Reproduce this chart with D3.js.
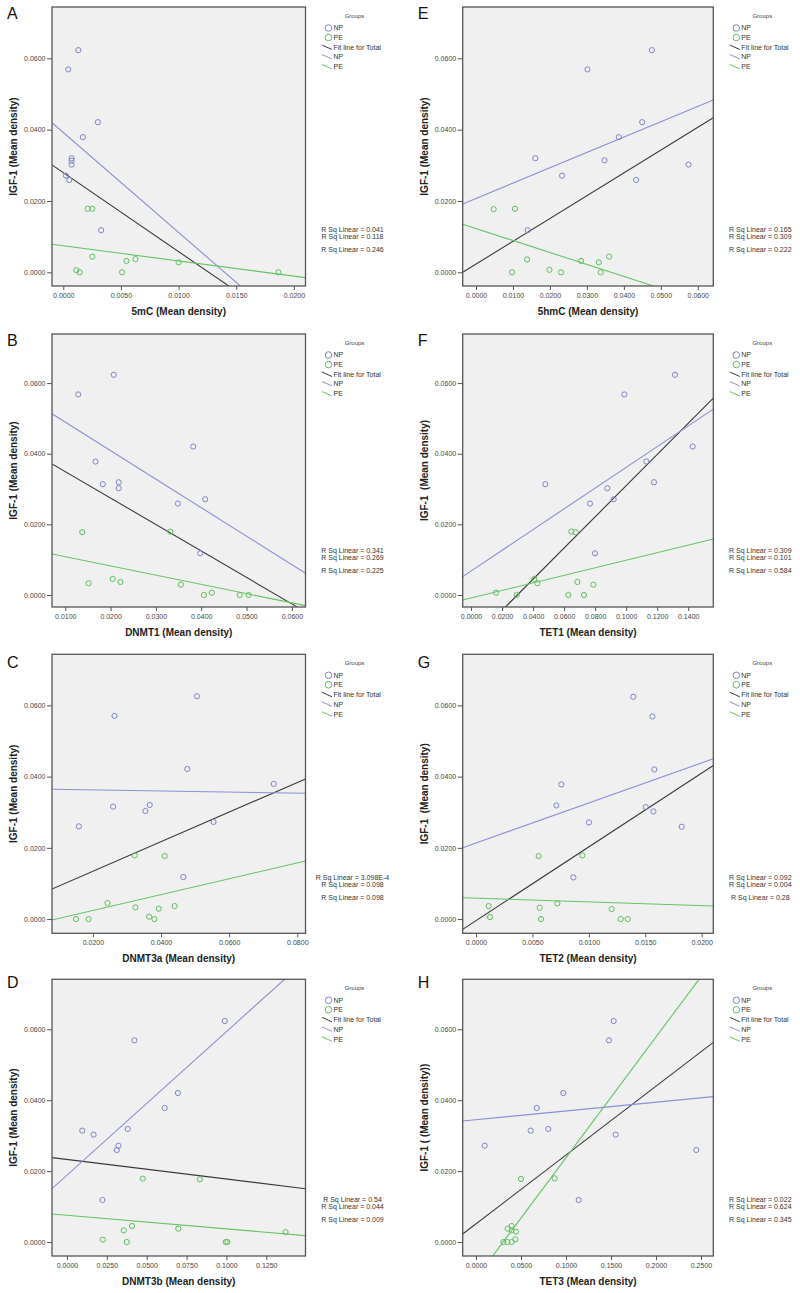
<!DOCTYPE html>
<html><head><meta charset="utf-8">
<script src="https://cdn.jsdelivr.net/npm/d3@7"></script>
<style>body{margin:0;background:#fff}svg text{font-family:"Liberation Sans",Arial,sans-serif;white-space:pre}</style>
</head><body><svg id="c" width="800" height="1293"></svg>
<script>
// ---------- DATA (x, IGF-1) pairs ----------
const groups = ["NP", "PE"];
const legendLabels = ["NP", "PE", "Fit line for Total", "NP", "PE"];
const yTicks = [0, 0.02, 0.04, 0.06];

// A: 5mC
const A_NP = [[0.0013,0.0623],[0.00043,0.0569],[0.0030,0.0421],[0.0017,0.0379],[0.00072,0.0320],[0.00072,0.0313],[0.00072,0.0302],[0.00023,0.0271],[0.00052,0.0259],[0.00328,0.0118]];
const A_PE = [[0.00212,0.0178],[0.00252,0.0178],[0.00252,0.0044],[0.00626,0.0037],[0.00548,0.0032],[0.0100,0.0028],[0.00113,0.0006],[0.00142,0.0],[0.0051,0.0],[0.01867,0.0]];
const A_FIT = {Total:[-0.00098,0.0301,0.01435,-0.00383], NP:[-0.00098,0.04196,0.01536,-0.00383], PE:[-0.00098,0.00785,0.0210,-0.0015]};
const A_R2 = ["0.041","0.118","0.246"];
const A_XTICKS = [0,0.005,0.01,0.015,0.02];

// E: 5hmC
const E_NP = [[0.04756,0.0623],[0.03014,0.0569],[0.04495,0.0421],[0.03863,0.0379],[0.01606,0.0320],[0.03475,0.0314],[0.05749,0.0302],[0.02329,0.0271],[0.04332,0.0259],[0.01399,0.0118]];
const E_PE = [[0.00478,0.0177],[0.01056,0.0178],[0.03601,0.0044],[0.01381,0.0036],[0.02843,0.0032],[0.03321,0.0028],[0.01986,0.0007],[0.00975,0],[0.02301,0],[0.03375,0]];
const E_FIT = {Total:[-0.0036,0.0,0.0642,0.04336], NP:[-0.0036,0.01916,0.0642,0.04832], PE:[-0.0036,0.01346,0.04801,-0.00383]};
const E_R2 = ["0.165","0.309","0.222"];
const E_XTICKS = [0,0.01,0.02,0.03,0.04,0.05,0.06];

// B: DNMT1
const B_NP = [[0.0207,0.06235],[0.01286,0.05678],[0.03823,0.04204],[0.01667,0.03779],[0.0218,0.03193],[0.01828,0.03137],[0.0218,0.03023],[0.04087,0.02711],[0.03485,0.02589],[0.03977,0.01181]];
const B_PE = [[0.01374,0.01776],[0.03317,0.01795],[0.02048,0.00453],[0.02217,0.00368],[0.01513,0.00331],[0.03551,0.00293],[0.04233,0.00066],[0.04057,0],[0.04849,0],[0.05047,0]];
const B_FIT = {Total:[0.00707,0.03713,0.06132,-0.0035], NP:[0.00707,0.0513,0.06301,0.00614], PE:[0.00707,0.01162,0.06301,-0.003]};
const B_R2 = ["0.341","0.269","0.225"];
const B_XTICKS = [0.01,0.02,0.03,0.04,0.05,0.06];

// F: TET1
const F_NP = [[0.13147,0.06235],[0.09882,0.05678],[0.14286,0.04204],[0.113,0.03779],[0.11794,0.03193],[0.0479,0.03137],[0.08786,0.03023],[0.09194,0.02711],[0.07669,0.02589],[0.07991,0.01181]];
const F_PE = [[0.06466,0.01795],[0.06745,0.01776],[0.04082,0.00453],[0.04275,0.00331],[0.06853,0.00368],[0.07884,0.00293],[0.01611,0.00066],[0.02943,0],[0.06273,0],[0.07282,0]];
const F_FIT = {Total:[0.02191,-0.0035,0.15617,0.05574], NP:[-0.00537,0.0052,0.15617,0.05262], PE:[-0.00537,-0.00142,0.15617,0.01587]};
const F_R2 = ["0.309","0.101","0.584"];
const F_XTICKS = [0,0.02,0.04,0.06,0.08,0.10,0.12,0.14];

// C: DNMT3a
const C_NP = [[0.05054,0.06257],[0.02634,0.05705],[0.04771,0.04215],[0.07307,0.03794],[0.03668,0.03204],[0.02595,0.03157],[0.03541,0.03035],[0.05541,0.02726],[0.0159,0.02604],[0.04654,0.0118]];
const C_PE = [[0.03229,0.01789],[0.04107,0.0177],[0.02429,0.0045],[0.044,0.00365],[0.03249,0.00328],[0.03932,0.0029],[0.03649,0.00066],[0.01502,0],[0.01873,0],[0.03805,0]];
const C_FIT = {Total:[0.008,0.00843,0.0824,0.03934], NP:[0.008,0.03644,0.0824,0.03532], PE:[0.008,-0.00028,0.0824,0.0163]};
const C_R2 = ["3.098E-4","0.098","0.098"];
const C_XTICKS = [0.02,0.04,0.06,0.08];

// G: TET2
const G_NP = [[0.01394,0.06242],[0.01563,0.0569],[0.0158,0.04202],[0.00756,0.03781],[0.00712,0.03191],[0.01504,0.03145],[0.01572,0.03023],[0.01001,0.02714],[0.01823,0.02592],[0.00863,0.0117]];
const G_PE = [[0.00555,0.01769],[0.00942,0.01787],[0.00721,0.0044],[0.00112,0.00365],[0.00564,0.00318],[0.01202,0.00281],[0.00124,0.00056],[0.00576,0],[0.01282,0],[0.01344,0]];
const G_FIT = {Total:[-0.00118,-0.0029,0.02103,0.04314], NP:[-0.00118,0.02003,0.02103,0.04501], PE:[-0.00118,0.00599,0.02103,0.00365]};
const G_R2 = ["0.092","0.004","0.28"];
const G_XTICKS = [0,0.005,0.01,0.015,0.02];

// D: DNMT3b
const D_NP = [[0.09896,0.06234],[0.04229,0.05689],[0.06958,0.04203],[0.06125,0.0378],[0.03813,0.03188],[0.00958,0.03141],[0.01667,0.03028],[0.03229,0.02717],[0.03125,0.02595],[0.02229,0.01185]];
const D_PE = [[0.0475,0.01787],[0.08333,0.01768],[0.04083,0.00451],[0.06979,0.00376],[0.03563,0.00329],[0.13708,0.00282],[0.0225,0.00066],[0.0375,0],[0.09958,0],[0.10063,0]];
const D_FIT = {Total:[-0.00938,0.02379,0.14958,0.01504], NP:[-0.00938,0.01504,0.13646,0.0741], PE:[-0.00938,0.0079,0.14958,0.00179]};
const D_R2 = ["0.54","0.044","0.009"];
const D_XTICKS = [0,0.025,0.05,0.075,0.1,0.125];

// H: TET3
const H_NP = [[0.15296,0.06234],[0.14778,0.05689],[0.09704,0.04203],[0.06741,0.0378],[0.08037,0.03188],[0.06074,0.03141],[0.15519,0.03028],[0.00963,0.02717],[0.24481,0.02595],[0.11407,0.01185]];
const H_PE = [[0.05,0.01777],[0.08741,0.01796],[0.03963,0.00451],[0.03519,0.00376],[0.03963,0.00329],[0.04444,0.00291],[0.0437,0.00075],[0.03037,0],[0.03481,0],[0.03963,0]];
const H_FIT = {Total:[-0.01481,0.00226,0.2637,0.0563], NP:[-0.01481,0.03413,0.2637,0.041], PE:[0.01852,-0.00395,0.24778,0.0741]};
const H_R2 = ["0.022","0.624","0.345"];
const H_XTICKS = [0,0.05,0.1,0.15,0.2,0.25];

// ---------- LAYOUT ----------
const cols = [{l:52, r:305.5}, {l:462.7, r:713.3}];
const rows = [
  {t:7,     b:286,    yDom:[-0.00384,0.07439], letterY:19},
  {t:334,   b:607,    yDom:[-0.0034,0.0739],   letterY:346},
  {t:654.3, b:933.3,  yDom:[-0.0040,0.07435],  letterY:668},
  {t:979.3, b:1256,   yDom:[-0.00395,0.0741],  letterY:988}
];
const panels = [
  {id:"A", col:0,row:0, xDom:[-0.00098,0.02101], xTitle:"5mC (Mean density)",    yTitle:"IGF-1 (Mean density)",    np:A_NP, pe:A_PE, fit:A_FIT, r2:A_R2, xt:A_XTICKS},
  {id:"B", col:0,row:1, xDom:[0.00707,0.06301],  xTitle:"DNMT1 (Mean density)",  yTitle:"IGF-1 (Mean density)",    np:B_NP, pe:B_PE, fit:B_FIT, r2:B_R2, xt:B_XTICKS},
  {id:"C", col:0,row:2, xDom:[0.008,0.0824],     xTitle:"DNMT3a (Mean density)", yTitle:"IGF-1 (Mean density)",    np:C_NP, pe:C_PE, fit:C_FIT, r2:C_R2, xt:C_XTICKS},
  {id:"D", col:0,row:3, xDom:[-0.00938,0.14958], xTitle:"DNMT3b (Mean density)", yTitle:"IGF-1 (Mean density)",    np:D_NP, pe:D_PE, fit:D_FIT, r2:D_R2, xt:D_XTICKS},
  {id:"E", col:1,row:0, xDom:[-0.0036,0.0642],   xTitle:"5hmC (Mean density)",   yTitle:"IGF-1 (Mean density)",    np:E_NP, pe:E_PE, fit:E_FIT, r2:E_R2, xt:E_XTICKS},
  {id:"F", col:1,row:1, xDom:[-0.00537,0.15617], xTitle:"TET1 (Mean density)",   yTitle:"IGF-1  (Mean density)",   np:F_NP, pe:F_PE, fit:F_FIT, r2:F_R2, xt:F_XTICKS},
  {id:"G", col:1,row:2, xDom:[-0.00118,0.02103], xTitle:"TET2 (Mean density)",   yTitle:"IGF-1  (Mean density)",   np:G_NP, pe:G_PE, fit:G_FIT, r2:G_R2, xt:G_XTICKS},
  {id:"H", col:1,row:3, xDom:[-0.01481,0.2637],  xTitle:"TET3 (Mean density)",   yTitle:"IGF-1 ( (Mean density))", np:H_NP, pe:H_PE, fit:H_FIT, r2:H_R2, xt:H_XTICKS}
];
const colors = {NP:"#7d84cc", PE:"#5dbf5d", NPline:"#8a90d6", PEline:"#66c466", Total:"#3a3a3a"};

const svg = d3.select("#c");
const defs = svg.append("defs");
const fmt = d3.format(".4f");

panels.forEach((p, i) => {
  const c = cols[p.col], r = rows[p.row];
  const x = d3.scaleLinear().domain(p.xDom).range([c.l, c.r]);
  const y = d3.scaleLinear().domain(r.yDom).range([r.b, r.t]);
  const g = svg.append("g");
  const cid = "clip" + i;
  defs.append("clipPath").attr("id", cid).append("rect")
    .attr("x", c.l).attr("y", r.t).attr("width", c.r - c.l).attr("height", r.b - r.t);

  g.append("rect").attr("x", c.l).attr("y", r.t).attr("width", c.r - c.l).attr("height", r.b - r.t)
    .attr("fill", "#f0f0f0");

  const yAxis = d3.axisLeft(y).tickValues(yTicks).tickFormat(fmt).tickSize(5).tickPadding(1.5);
  const ya = g.append("g").attr("transform", `translate(${c.l},0)`).call(yAxis);
  const xAxis = d3.axisBottom(x).tickValues(p.xt).tickFormat(fmt).tickSize(4).tickPadding(3);
  const xa = g.append("g").attr("transform", `translate(0,${r.b})`).call(xAxis);
  [ya, xa].forEach(a => {
    a.select(".domain").remove();
    a.selectAll(".tick line").attr("stroke", "#555").attr("stroke-width", 1);
    a.selectAll(".tick text").attr("fill", "#444").style("font-size", "7px");
  });

  const lg = g.append("g").attr("clip-path", `url(#${cid})`);
  [["Total", colors.Total], ["NP", colors.NPline], ["PE", colors.PEline]].forEach(([k, col]) => {
    const L = p.fit[k];
    lg.append("line").attr("x1", x(L[0])).attr("y1", y(L[1])).attr("x2", x(L[2])).attr("y2", y(L[3]))
      .attr("stroke", col).attr("stroke-width", 1.1);
  });

  [["NP", p.np], ["PE", p.pe]].forEach(([k, pts]) => {
    lg.selectAll(null).data(pts).enter().append("circle")
      .attr("cx", d => x(d[0])).attr("cy", d => y(d[1])).attr("r", 2.6)
      .attr("fill", "none").attr("stroke", colors[k]).attr("stroke-width", 1);
  });

  g.append("rect").attr("x", c.l).attr("y", r.t).attr("width", c.r - c.l).attr("height", r.b - r.t)
    .attr("fill", "none").attr("stroke", "#555").attr("stroke-width", 1.3);

  svg.append("text").attr("x", c.l - 45).attr("y", r.letterY).text(p.id)
    .style("font-size", "16px").attr("fill", "#111");

  svg.append("text").attr("x", (c.l + c.r) / 2).attr("y", r.b + 29).attr("text-anchor", "middle")
    .style("font-size", "10px").style("font-weight", "bold").attr("fill", "#222").text(p.xTitle);
  svg.append("text").attr("transform", `translate(${c.l - 35},${(r.t + r.b) / 2}) rotate(-90)`)
    .attr("text-anchor", "middle").style("font-size", "10px").style("font-weight", "bold")
    .attr("fill", "#222").text(p.yTitle);

  const R = c.r;
  svg.append("text").attr("x", R + 49).attr("y", r.t + 8.5).attr("dy", "0.35em").attr("text-anchor", "middle")
    .style("font-size", "6px").attr("fill", "#444").text("Groups");
  const rowY = [21, 30.5, 40.5, 50, 60];
  legendLabels.forEach((lab, j) => {
    const yy = r.t + rowY[j];
    if (j < 2) {
      svg.append("circle").attr("cx", R + 23).attr("cy", yy).attr("r", 3.3).attr("fill", "none")
        .attr("stroke", colors[groups[j]]).attr("stroke-width", 1);
    } else {
      const col = j === 2 ? colors.Total : (j === 3 ? colors.NPline : colors.PEline);
      svg.append("line").attr("x1", R + 16.5).attr("y1", yy - 2.5).attr("x2", R + 26.5).attr("y2", yy + 2)
        .attr("stroke", col).attr("stroke-width", 1);
    }
    svg.append("text").attr("x", R + 28).attr("y", yy).attr("dy", "0.35em")
      .style("font-size", "7px").attr("fill", "#333").text(lab);
  });

  const ry = [-56, -49, -36];
  p.r2.forEach((v, j) => {
    svg.append("text").attr("x", R + 47).attr("y", r.b + ry[j]).attr("dy", "0.35em").attr("text-anchor", "middle")
      .style("font-size", "7px").attr("fill", "#333").text("R Sq Linear = " + v);
  });
});
</script></body></html>
